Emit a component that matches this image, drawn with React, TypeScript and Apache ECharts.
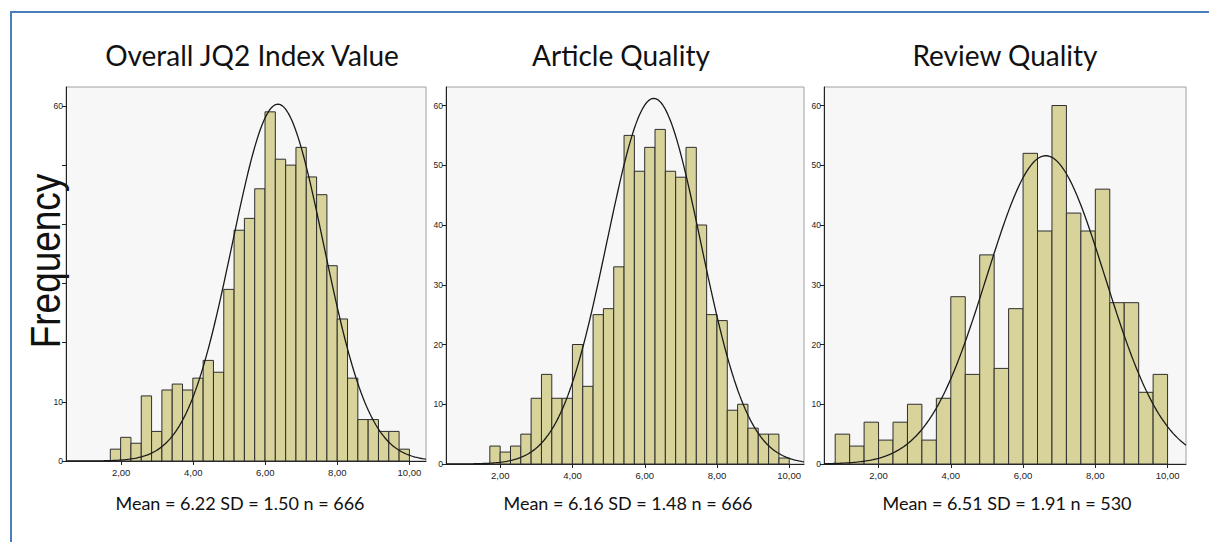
import React, { useEffect, useRef } from "react";
import * as echarts from "echarts";

// ---- Data ----
const titles = ["Overall JQ2 Index Value", "Article Quality", "Review Quality"];
const statTexts = [
  "Mean = 6.22 SD = 1.50 n = 666",
  "Mean = 6.16 SD = 1.48 n = 666",
  "Mean = 6.51 SD = 1.91 n = 530",
];

const overallCounts = [2, 4, 3, 11, 5, 12, 13, 12, 14, 17, 15, 29, 39, 41, 46, 59, 51, 50, 53, 48, 45, 33, 24, 14, 7, 7, 5, 5, 2];
const articleCounts = [3, 2, 3, 5, 11, 15, 11, 11, 20, 13, 25, 26, 33, 55, 49, 53, 56, 49, 48, 53, 40, 25, 24, 9, 10, 6, 5, 5, 1];
const reviewCounts = [5, 3, 7, 4, 7, 10, 4, 11, 28, 15, 35, 16, 26, 52, 39, 60, 42, 39, 46, 27, 27, 12, 15];

const binStarts = [1.70, 1.71, 0.8];
const binWidths = [0.2862, 0.2859, 0.4];

// fitted normal curve drawn by the reference: [peak height, centre, spread]
const overallCurve = [60.3, 6.35, 1.27];
const articleCurve = [61.2, 6.25, 1.3];
const reviewCurve = [51.6, 6.63, 1.64];

const xTickValues = [2, 4, 6, 8, 10];
const yTickValues = [0, 10, 20, 30, 40, 50, 60];
const overallYLabels = [0, 10, 60];

// ---- Layout ----
const grids = [
  { left: 66, top: 87, width: 360, height: 374 },
  { left: 446, top: 87, width: 358, height: 377 },
  { left: 824, top: 87, width: 362, height: 377 },
];
const xRanges = [
  [0.47, 10.46],
  [0.496, 10.41],
  [0.49, 10.51],
];
const yMaxes = [63.2, 63.1, 63.1];
const titleX = [252, 621, 1005];
const statX = [240, 628, 1007];

const countsList = [overallCounts, articleCounts, reviewCounts];
const curves = [overallCurve, articleCurve, reviewCurve];

function histData(counts: number[], start: number, w: number) {
  return counts.map((c, i) => [start + i * w, start + (i + 1) * w, c]);
}

function curveData(p: number[], range: number[]) {
  const [h, m, s] = p;
  const pts: number[][] = [];
  const steps = 200;
  for (let i = 0; i <= steps; i++) {
    const x = range[0] + ((range[1] - range[0]) * i) / steps;
    pts.push([x, h * Math.exp(-((x - m) * (x - m)) / (2 * s * s))]);
  }
  return pts;
}

const fmtX = (v: number) => v.toFixed(2).replace(".", ",");

export default function App() {
  const ref = useRef<HTMLDivElement>(null);
  useEffect(() => {
    if (!ref.current) return;
    const chart = echarts.init(ref.current, null, { renderer: "svg" });
    const labelFont = "Liberation Sans, Arial, sans-serif";
    const option: any = {
      animation: false,
      backgroundColor: "#ffffff",
      grid: grids.map((g) => ({
        ...g,
        show: true,
        backgroundColor: "#f7f7f7",
        borderColor: "#a0a0a0",
        borderWidth: 1,
        containLabel: false,
      })),
      xAxis: grids.map((_, i) => ({
        type: "value",
        gridIndex: i,
        min: xRanges[i][0],
        max: xRanges[i][1],
        axisLine: { show: true, onZero: false, lineStyle: { color: "#222", width: 1 } },
        axisTick: { show: true, length: 4, customValues: xTickValues, lineStyle: { color: "#222" } },
        axisLabel: {
          show: true,
          customValues: xTickValues,
          formatter: fmtX,
          fontSize: 9.5,
          color: "#222",
          fontFamily: labelFont,
          margin: 6,
        },
        splitLine: { show: false },
      })),
      yAxis: grids.map((_, i) => ({
        type: "value",
        gridIndex: i,
        min: 0,
        max: yMaxes[i],
        axisLine: { show: true, onZero: false, lineStyle: { color: "#222", width: 1 } },
        axisTick: { show: true, length: 4, customValues: yTickValues, lineStyle: { color: "#222" } },
        axisLabel: {
          show: true,
          customValues: i === 0 ? overallYLabels : yTickValues,
          fontSize: 8.5,
          color: "#222",
          fontFamily: labelFont,
          margin: 3,
        },
        splitLine: { show: false },
      })),
      series: [
        ...countsList.map((counts, i) => ({
          type: "custom",
          xAxisIndex: i,
          yAxisIndex: i,
          encode: { x: [0, 1], y: 2 },
          data: histData(counts, binStarts[i], binWidths[i]),
          renderItem: (params: any, api: any) => {
            const x0 = api.value(0);
            const x1 = api.value(1);
            const v = api.value(2);
            const p0 = api.coord([x0, v]);
            const p1 = api.coord([x1, 0]);
            return {
              type: "rect",
              shape: { x: p0[0], y: p0[1], width: p1[0] - p0[0], height: p1[1] - p0[1] },
              style: { fill: "#d7d39b", stroke: "#2e2e2e", lineWidth: 1 },
            };
          },
          z: 2,
        })),
        ...curves.map((c, i) => ({
          type: "line",
          xAxisIndex: i,
          yAxisIndex: i,
          data: curveData(c, xRanges[i]),
          showSymbol: false,
          symbol: "none",
          smooth: false,
          lineStyle: { color: "#1a1a1a", width: 1.3 },
          z: 3,
        })),
      ],
      graphic: [
        {
          type: "line",
          shape: { x1: 11, y1: 12, x2: 11, y2: 542 },
          style: { stroke: "#4a7ebb", lineWidth: 2 },
        },
        {
          type: "line",
          shape: { x1: 10, y1: 12, x2: 1209, y2: 12 },
          style: { stroke: "#4a7ebb", lineWidth: 2 },
        },
        ...titles.map((t, i) => ({
          type: "text",
          x: titleX[i],
          y: 55,
          style: {
            text: t,
            fill: "#111",
            font: "28px Lato, 'Open Sans', sans-serif",
            textAlign: "center",
            textVerticalAlign: "middle",
          },
        })),
        ...statTexts.map((t, i) => ({
          type: "text",
          x: statX[i],
          y: 503,
          style: {
            text: t,
            fill: "#111",
            font: "18px Lato, 'Open Sans', sans-serif",
            textAlign: "center",
            textVerticalAlign: "middle",
          },
        })),
        {
          type: "text",
          x: 45,
          y: 261,
          rotation: Math.PI / 2,
          scaleX: 0.88,
          style: {
            text: "Frequency",
            fill: "#111",
            font: "42px 'Liberation Sans', Arial, sans-serif",
            textAlign: "center",
            textVerticalAlign: "middle",
          },
        },
      ],
    };
    chart.setOption(option);
    return () => chart.dispose();
  }, []);
  return (
    <div
      ref={ref}
      style={{ position: "absolute", left: 0, top: 0, width: 1209, height: 542, background: "#fff" }}
    />
  );
}
